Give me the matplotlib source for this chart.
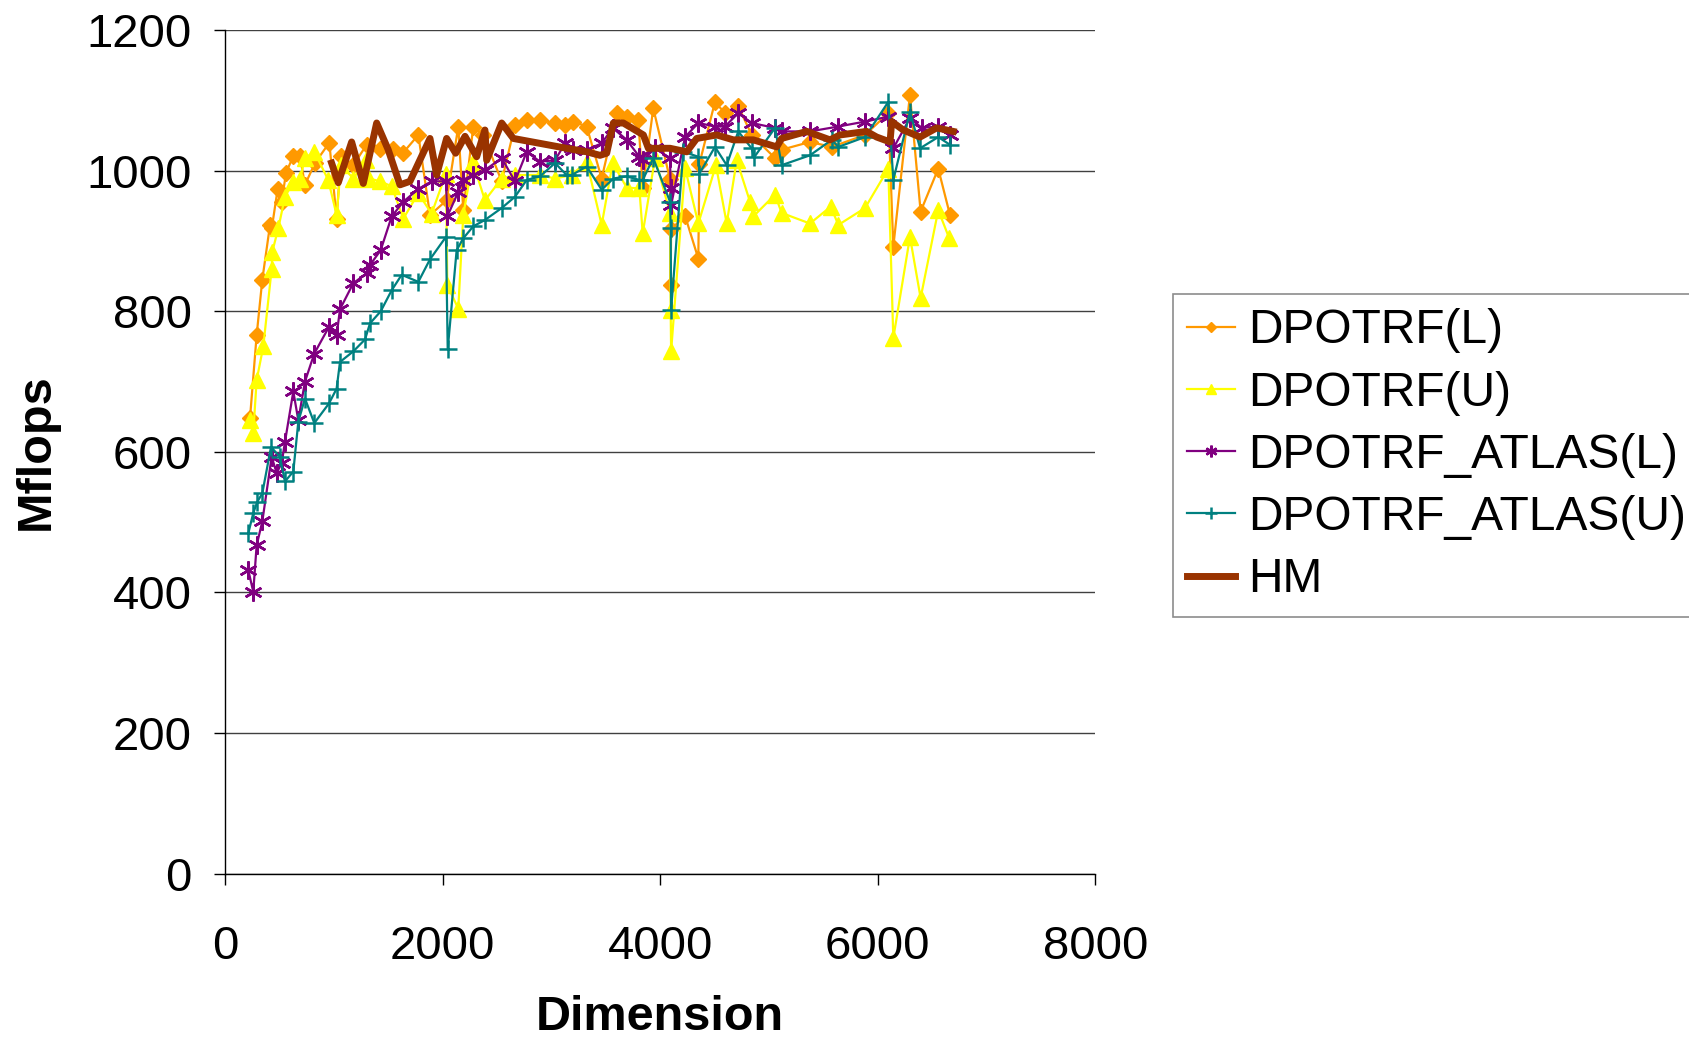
import matplotlib
matplotlib.use("Agg")
import matplotlib.pyplot as plt

plt.rcParams['font.family'] = ['Liberation Sans', 'DejaVu Sans']

# DPOTRF(L)
dim_l = [230, 291, 343, 414, 430, 484, 521, 561, 628, 689, 735, 827, 959, 1026, 1066,
         1179, 1302, 1424, 1547, 1639, 1777, 1884, 2037, 2144, 2190, 2282, 2374, 2543,
         2665, 2773, 2895, 3033, 3125, 3201, 3324, 3462, 3600, 3692, 3799, 3839, 3936,
         4090, 4096, 4100, 4228, 4350, 4360, 4503, 4595, 4717, 4840, 5055, 5116, 5376,
         5576, 5882, 6096, 6142, 6295, 6393, 6555, 6663]
mf_l = [648, 766, 845, 923, 918, 974, 956, 997, 1021, 1021, 980, 1011, 1040, 932, 1021,
        1008, 1037, 1031, 1031, 1026, 1051, 937, 958, 1063, 944, 1063, 1051, 985,
        1065, 1072, 1072, 1068, 1065, 1070, 1063, 989, 1082, 1077, 1072, 975, 1089,
        988, 837, 917, 936, 875, 1010, 1098, 1082, 1092, 1051, 1018, 1030, 1041,
        1034, 1051, 1082, 892, 1108, 942, 1003, 937]

# DPOTRF(U)
dim_u = [230, 260, 291, 352, 429, 435, 490, 551, 628, 689, 735, 821, 949, 1026, 1066,
         1179, 1296, 1327, 1424, 1532, 1639, 1777, 1899, 2031, 2043, 2144, 2190, 2276,
         2389, 2543, 2665, 2895, 3033, 3186, 3324, 3462, 3563, 3692, 3808, 3839, 3952,
         4090, 4096, 4100, 4228, 4350, 4512, 4611, 4703, 4825, 4855, 5055, 5116, 5376,
         5567, 5637, 5882, 6096, 6142, 6295, 6393, 6555, 6656]
mf_u = [645, 627, 702, 750, 860, 885, 918, 963, 984, 988, 1018, 1027, 987, 937, 1008,
        989, 1015, 989, 985, 978, 932, 968, 939, 996, 837, 804, 937, 1013,
        958, 989, 994, 994, 989, 994, 1013, 923, 1011, 976, 975, 911, 1018,
        940, 802, 743, 1004, 925, 1008, 925, 1015, 956, 935, 966, 940, 925,
        949, 923, 947, 1003, 762, 906, 819, 944, 904]

# DPOTRF_ATLAS(L)
dim_al = [214, 260, 291, 343, 429, 475, 521, 551, 628, 674, 735, 821, 956, 1026, 1057,
          1179, 1302, 1333, 1431, 1532, 1639, 1777, 1899, 2031, 2043, 2144, 2190, 2282,
          2389, 2543, 2665, 2773, 2895, 3033, 3125, 3201, 3324, 3462, 3563, 3692, 3808,
          3839, 3952, 4090, 4096, 4100, 4228, 4350, 4503, 4595, 4717, 4840, 5055, 5116,
          5376, 5637, 5882, 6096, 6142, 6295, 6403, 6555, 6663]
mf_al = [432, 401, 467, 501, 593, 570, 584, 614, 686, 645, 700, 740, 778, 766, 803,
         840, 854, 866, 887, 935, 956, 974, 985, 985, 935, 970, 987, 994,
         1001, 1018, 985, 1027, 1013, 1015, 1039, 1030, 1030, 1039, 1061, 1044, 1020,
         1015, 1032, 1018, 975, 951, 1048, 1068, 1063, 1063, 1082, 1068, 1061, 1056,
         1056, 1063, 1070, 1077, 1032, 1075, 1061, 1063, 1051]

# DPOTRF_ATLAS(U)
dim_au = [214, 260, 297, 343, 423, 505, 551, 628, 674, 735, 821, 956, 1026, 1057, 1179,
          1287, 1333, 1431, 1532, 1624, 1777, 1884, 2031, 2047, 2129, 2190, 2282, 2389,
          2543, 2665, 2773, 2895, 3033, 3140, 3186, 3324, 3462, 3569, 3692, 3808, 3839,
          3936, 4090, 4096, 4100, 4212, 4350, 4360, 4503, 4611, 4717, 4840, 4862, 5055,
          5116, 5376, 5576, 5637, 5882, 6096, 6142, 6295, 6388, 6555, 6663]
mf_au = [484, 513, 529, 541, 607, 593, 558, 572, 643, 676, 641, 669, 690, 728, 743,
         760, 783, 800, 830, 852, 842, 874, 906, 746, 887, 904, 921, 930,
         947, 963, 987, 992, 1011, 994, 994, 1006, 973, 989, 992, 987, 987,
         1018, 956, 918, 802, 1027, 1020, 996, 1034, 1008, 1056, 1032, 1019, 1061,
         1008, 1022, 1044, 1034, 1048, 1098, 987, 1084, 1032, 1048, 1037]

# HM
dim_hm = [980, 1041, 1164, 1271, 1394, 1500, 1608, 1700, 1884, 1945, 2037, 2120, 2206,
          2313, 2389, 2405, 2543, 2650, 2895, 3140, 3324, 3446, 3508, 3569, 3661, 3845,
          3891, 4090, 4243, 4335, 4519, 4672, 4855, 5070, 5116, 5346, 5560, 5652, 5897,
          5989, 6112, 6127, 6234, 6388, 6540, 6693]
mf_hm = [1011, 983, 1041, 982, 1068, 1030, 980, 985, 1046, 994, 1046, 1025, 1049,
         1020, 1058, 1015, 1068, 1046, 1039, 1032, 1027, 1022, 1025, 1068, 1068, 1051,
         1032, 1032, 1027, 1046, 1051, 1044, 1044, 1034, 1046, 1056, 1044, 1051, 1056,
         1048, 1041, 1070, 1058, 1048, 1061, 1056]

fig = plt.figure(figsize=(16.89, 10.42), dpi=100)
ax = fig.add_axes([0.1332, 0.1616, 0.5154, 0.8094])

ax.plot(dim_l, mf_l, color='#FF9900', lw=1.6, marker='D', ms=8.5, label='DPOTRF(L)')
ax.plot(dim_u, mf_u, color='#FFFF00', lw=1.6, marker='^', ms=11, label='DPOTRF(U)')
ax.plot(dim_al, mf_al, color='#800080', lw=1.6, marker=(6, 2, 0), ms=13, mew=1.8,
        label='DPOTRF_ATLAS(L)')
ax.plot(dim_au, mf_au, color='#008080', lw=1.6, marker='+', ms=13, mew=1.8,
        label='DPOTRF_ATLAS(U)')
ax.plot(dim_hm, mf_hm, color='#993300', lw=5, label='HM')

ax.set_xlim(0, 8000)
ax.set_ylim(0, 1200)
ax.set_xticks(range(0, 8001, 2000))
ax.set_yticks(range(0, 1201, 200))
ax.yaxis.grid(True, color='#404040', lw=1.0)
ax.set_axisbelow(True)
for s in ['top', 'right']:
    ax.spines[s].set_visible(False)
ax.spines['left'].set_linewidth(1.0)
ax.spines['bottom'].set_linewidth(1.0)
ax.tick_params(labelsize=34, length=8, width=1.0, direction='out')
ax.tick_params(axis='x', pad=29)
ax.tick_params(axis='y', pad=16)

ax.set_xlabel('Dimension', fontsize=35, fontweight='bold', labelpad=19)
ax.set_ylabel('Mflops', fontsize=35, fontweight='bold', labelpad=20)

leg = ax.legend(loc='upper left', bbox_to_anchor=(0.6945, 0.7179),
                bbox_transform=fig.transFigure, fontsize=34.5, frameon=True,
                fancybox=False, edgecolor='#707070', borderpad=0.3,
                labelspacing=0.36, handlelength=1.0, handletextpad=0.27,
                markerscale=0.65, borderaxespad=0)
leg.get_frame().set_linewidth(1.2)

fig.savefig('out.png', dpi=100)
